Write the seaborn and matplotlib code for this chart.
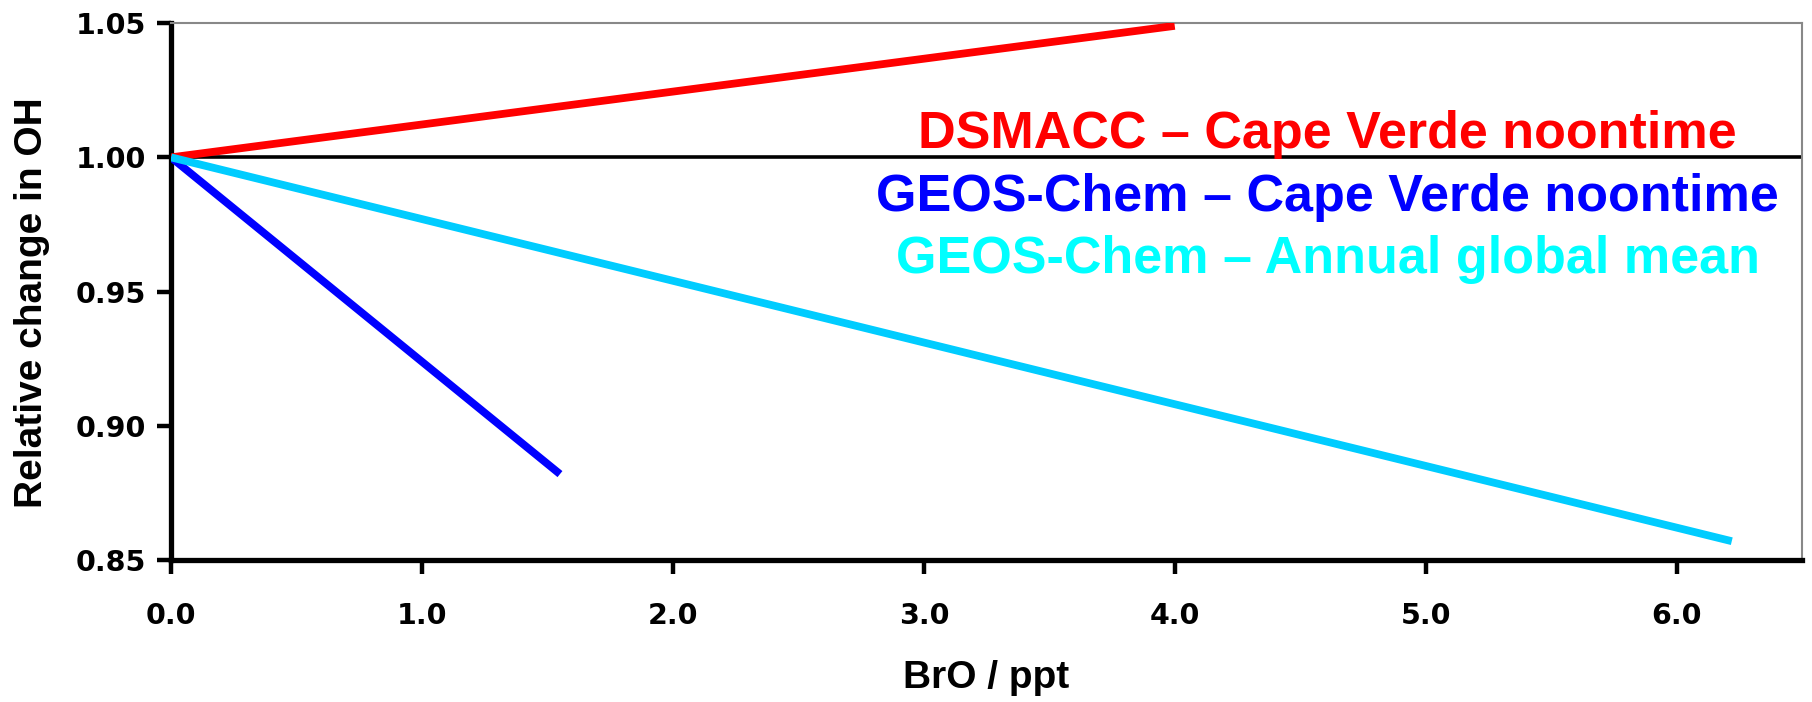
import numpy as np
import pandas as pd
import matplotlib
matplotlib.use("Agg")
import matplotlib.pyplot as plt
import seaborn as sns

# BrO mixing ratio (ppt) and relative change in OH for each model run
series_names = [
    "DSMACC – Cape Verde noontime",
    "GEOS-Chem – Cape Verde noontime",
    "GEOS-Chem – Annual global mean",
]
dsmacc_bro = [0.0, 4.0]
dsmacc_oh = [1.0, 1.049]
gc_cv_bro = [0.0, 1.55]
gc_cv_oh = [1.0, 0.882]
gc_global_bro = [0.0, 6.22]
gc_global_oh = [1.0, 0.857]

line_colors = ["#FF0000", "#0000FF", "#00CCFF"]
text_colors = ["#FF0000", "#0000FF", "#00FFFF"]

x_ticks = [0.0, 1.0, 2.0, 3.0, 4.0, 5.0, 6.0]
y_ticks = [0.85, 0.90, 0.95, 1.00, 1.05]

frames = []
for name, xs, ys in zip(series_names,
                        [dsmacc_bro, gc_cv_bro, gc_global_bro],
                        [dsmacc_oh, gc_cv_oh, gc_global_oh]):
    frames.append(pd.DataFrame({"BrO": xs, "OH": ys, "run": name}))
df = pd.concat(frames, ignore_index=True)

sns.set_style("white")
plt.rcParams["font.family"] = ["Liberation Sans", "DejaVu Sans"]
plt.rcParams["font.weight"] = "bold"
plt.rcParams["text.color"] = "black"
plt.rcParams["axes.labelcolor"] = "black"
plt.rcParams["xtick.color"] = "black"
plt.rcParams["ytick.color"] = "black"

fig = plt.figure(figsize=(18.12, 7.02), dpi=100)
ax = fig.add_axes([0.0944, 0.2023, 0.9001, 0.7647])

# reference line at no change
ax.axhline(1.0, color="black", lw=2.6, zorder=1)

sns.lineplot(data=df, x="BrO", y="OH", hue="run", hue_order=series_names,
             palette=line_colors, linewidth=5.6, legend=False, ax=ax,
             zorder=3, solid_capstyle="butt")

ax.set_xlim(0, 6.5)
ax.set_ylim(0.85, 1.05)
ax.set_xticks(x_ticks)
ax.set_xticklabels([f"{v:.1f}" for v in x_ticks])
ax.set_yticks(y_ticks)
ax.set_yticklabels([f"{v:.2f}" for v in y_ticks])

ax.tick_params(axis="both", direction="out", length=10, width=3.2,
               color="black", labelcolor="black")
ax.tick_params(axis="x", bottom=True, top=False, pad=20)
ax.tick_params(axis="y", left=True, right=False, pad=8)
for lab in ax.get_xticklabels() + ax.get_yticklabels():
    lab.set_fontfamily("DejaVu Sans")
    lab.set_fontweight("bold")
    lab.set_fontsize(20.5)

for side in ["left", "bottom"]:
    ax.spines[side].set_color("black")
    ax.spines[side].set_linewidth(3.8)
for side in ["top", "right"]:
    ax.spines[side].set_color("#888888")
    ax.spines[side].set_linewidth(1.5)

ax.set_xlabel("BrO / ppt", fontsize=28, fontweight="bold", labelpad=22)
ax.set_ylabel("Relative change in OH", fontsize=28, fontweight="bold")
ax.yaxis.set_label_coords(-0.074, 0.48)

# series labels drawn inside the plot
label_y = [1.0085, 0.985, 0.962]
for name, col, yv in zip(series_names, text_colors, label_y):
    ax.text(4.61, yv, name, color=col, fontsize=37.5, fontweight="bold",
            ha="center", va="center", zorder=4)

fig.savefig("out.png", dpi=100)
